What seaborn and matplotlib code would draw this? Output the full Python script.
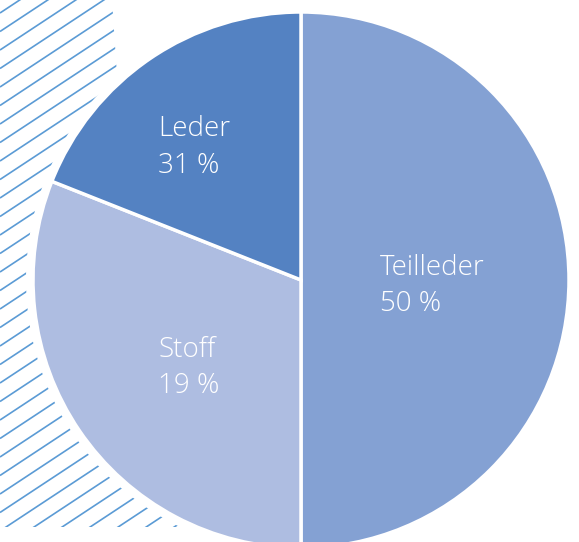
import numpy as np
import matplotlib
matplotlib.use("Agg")
import matplotlib.pyplot as plt
from matplotlib.patches import Polygon, Circle
from matplotlib.collections import LineCollection
import seaborn as sns

# ---- data ----
categories = ["Teilleder", "Stoff", "Leder"]       # drawing order (clockwise from top)
wedge_shares = [50, 31, 19]                         # wedge sizes as drawn
label_percents = ["50 %", "19 %", "31 %"]           # texts printed in each wedge
colors = ["#84A1D3", "#AEBDE1", "#5482C2"]

sns.set_theme(style="white")
plt.rcParams["font.family"] = ["Open Sans", "DejaVu Sans"]

W, H = 579, 542
fig = plt.figure(figsize=(W / 100, H / 100), dpi=100)
ax = fig.add_axes([0, 0, 1, 1])
ax.set_xlim(0, W)
ax.set_ylim(0, H)
ax.set_aspect("equal")
ax.axis("off")

def py(y):  # pixel-from-top to data y
    return H - y

cx, cy, R = 301, py(280), 268

# hatched decorative region
poly = Polygon([(0, py(0)), (112, py(0)), (118, py(90)), (215, py(527)), (0, py(527))],
               closed=True, facecolor="none", edgecolor="none")
ax.add_patch(poly)
slope = 0.66
segs = []
for c in np.arange(py(13) - 40 * 18.5, py(13) + 40 * 18.5, 18.5):
    segs.append([(0, c), (W, c + slope * W)])
lc = LineCollection(segs, colors="#5B9BD5", linewidths=1.2, zorder=1)
ax.add_collection(lc)
lc.set_clip_path(poly)

# white halo around pie
ax.add_patch(Circle((cx, cy), R + 7, facecolor="white", edgecolor="none", zorder=2))

wedges, _ = ax.pie(wedge_shares, colors=colors, startangle=90, counterclock=False,
                   center=(cx, cy), radius=R, frame=True,
                   wedgeprops=dict(edgecolor="white", linewidth=2.5, zorder=3))
for w in wedges:
    w.set_zorder(3)
ax.set_xlim(0, W)
ax.set_ylim(0, H)
ax.axis("off")

# labels (name + percent), left aligned
label_pos = [(380, 275, 311), (158, 357, 393), (158, 136, 173)]
for name, pct, (x, y1, y2) in zip(categories, label_percents, label_pos):
    ax.text(x, py(y1), name, color="white", fontsize=20, fontweight="light",
            ha="left", va="baseline", zorder=5)
    ax.text(x, py(y2), pct, color="white", fontsize=20, fontweight="light",
            ha="left", va="baseline", zorder=5)

fig.savefig("out.png", dpi=100)
